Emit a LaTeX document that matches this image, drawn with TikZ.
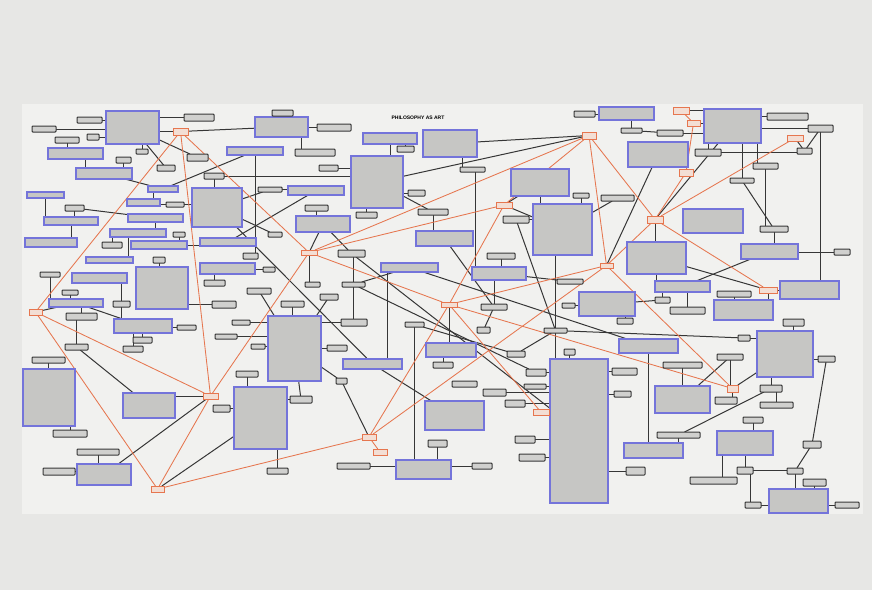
\documentclass[tikz,border=0pt]{standalone}
\usepackage{fontspec}
\newfontfamily\titlefont{Liberation Sans}
\pgfdeclarelayer{bg}\pgfdeclarelayer{ln}\pgfsetlayers{bg,ln,main}
\definecolor{wall}{HTML}{E7E7E5}
\definecolor{paper}{HTML}{F1F1EF}
\definecolor{boxblue}{HTML}{7474DA}
\definecolor{boxgray}{HTML}{C6C6C4}
\definecolor{sdark}{HTML}{383838}
\definecolor{sgray}{HTML}{D0D0CE}
\definecolor{rline}{HTML}{E6764F}
\definecolor{rfill}{HTML}{F3DED4}
\definecolor{dline}{HTML}{363636}
\tikzset{
 bbox/.style={draw=boxblue,fill=boxgray,line width=1.2pt,inner sep=0pt,outer sep=0pt},
 sbox/.style={draw=sdark,fill=sgray,line width=1pt,rounded corners=0.8pt,inner sep=0pt,outer sep=0pt},
 rbox/.style={draw=rline,fill=rfill,line width=0.9pt,inner sep=0pt,outer sep=0pt},
 dk/.style={draw=dline,line width=1pt},
 rd/.style={draw=rline,line width=0.85pt}}
\newcommand\mkB[5]{\node[bbox,minimum width={#4-#2},minimum height={#5-#3}] (#1) at ({(#2+#4)/2},{(#3+#5)/2}) {};}
\newcommand\mkS[5]{\node[sbox,minimum width={#4-#2},minimum height={#5-#3}] (#1) at ({(#2+#4)/2},{(#3+#5)/2}) {};}
\newcommand\mkR[5]{\node[rbox,minimum width={#4-#2},minimum height={#5-#3}] (#1) at ({(#2+#4)/2},{(#3+#5)/2}) {};}
\newcommand\cDL[2]{\draw[dk] (#1) -- (#2);}
\newcommand\cRL[2]{\draw[rd] (#1) -- (#2);}
\newcommand\cDV[2]{\draw[dk] (#1) -- (#1 |- #2);}
\newcommand\cDH[2]{\draw[dk] (#1) -- (#1 -| #2);}
\newcommand\cDVS[3]{\draw[dk] ([xshift=#3]#1.center) -- ([xshift=#3]#1.center |- #2.center);}
\begin{document}
\begin{tikzpicture}[x=1pt,y=-1pt]
\begin{pgfonlayer}{bg}
\fill[wall] (0,0) rectangle (872,590);
\fill[paper] (22,104) rectangle (863,514);
\end{pgfonlayer}
\useasboundingbox (0,0) rectangle (872,590);
\node[font=\titlefont\bfseries\fontsize{5}{6}\selectfont,inner sep=0pt] (title) at (418,118) {PHILOSOPHY AS ART};
% blue boxes
\mkB{B1}{106}{111}{159}{144}
\mkB{B2}{48}{148}{103}{159}
\mkB{B3}{76}{168}{132}{179}
\mkB{B4}{148}{186}{178}{192}
\mkB{B5}{192}{188}{242}{227}
\mkB{B6}{27}{192}{64}{198}
\mkB{B7}{127}{199}{160}{206}
\mkB{B8}{44}{217}{98}{225}
\mkB{B9}{128}{214}{183}{222}
\mkB{B10}{110}{229}{166}{237}
\mkB{B11}{25}{238}{77}{247}
\mkB{B12}{131}{241}{187}{249}
\mkB{B13}{200}{238}{256}{246}
\mkB{B14}{200}{263}{255}{274}
\mkB{B15}{255}{117}{308}{137}
\mkB{B16}{227}{147}{283}{155}
\mkB{B17}{363}{133}{417}{144}
\mkB{B18}{423}{130}{477}{157}
\mkB{B19}{351}{156}{403}{208}
\mkB{B20}{288}{186}{344}{195}
\mkB{B21}{296}{216}{350}{232}
\mkB{B22}{416}{231}{473}{246}
\mkB{B23}{599}{107}{654}{120}
\mkB{B24}{628}{142}{688}{167}
\mkB{B25}{511}{169}{569}{196}
\mkB{B26}{533}{204}{592}{255}
\mkB{B27}{704}{109}{761}{143}
\mkB{B28}{683}{209}{743}{233}
\mkB{B29}{741}{244}{798}{259}
\mkB{B30}{86}{257}{133}{263}
\mkB{B31}{136}{267}{188}{309}
\mkB{B32}{72}{273}{127}{283}
\mkB{B33}{49}{299}{103}{307}
\mkB{B34}{114}{319}{172}{333}
\mkB{B35}{23}{369}{75}{426}
\mkB{B36}{123}{393}{175}{418}
\mkB{B37}{381}{263}{438}{272}
\mkB{B38}{268}{316}{321}{381}
\mkB{B39}{343}{359}{402}{369}
\mkB{B40}{426}{343}{476}{357}
\mkB{B41}{234}{387}{287}{449}
\mkB{B42}{472}{267}{526}{280}
\mkB{B43}{627}{242}{686}{274}
\mkB{B44}{655}{281}{710}{292}
\mkB{B45}{579}{292}{635}{316}
\mkB{B46}{619}{339}{678}{353}
\mkB{B47}{550}{359}{608}{503}
\mkB{B48}{655}{386}{710}{413}
\mkB{B49}{714}{300}{773}{320}
\mkB{B50}{780}{281}{839}{299}
\mkB{B51}{757}{331}{813}{377}
\mkB{B52}{425}{401}{484}{430}
\mkB{B53}{77}{464}{131}{485}
\mkB{B54}{396}{460}{451}{479}
\mkB{B55}{624}{443}{683}{458}
\mkB{B56}{717}{431}{773}{455}
\mkB{B57}{769}{489}{828}{513}
% small boxes
\mkS{S1}{77}{117}{102}{123}
\mkS{S2}{32}{126}{56}{132}
\mkS{S3}{87}{134}{99}{140}
\mkS{S4}{184}{114}{214}{121}
\mkS{S5}{55}{137}{79}{143}
\mkS{S6}{136}{149}{148}{154}
\mkS{S7}{187}{154}{208}{161}
\mkS{S8}{157}{165}{175}{171}
\mkS{S9}{116}{157}{131}{163}
\mkS{S10}{204}{173}{224}{179}
\mkS{S11}{65}{205}{84}{211}
\mkS{S12}{166}{202}{184}{207}
\mkS{S13}{173}{232}{185}{237}
\mkS{S14}{102}{242}{122}{248}
\mkS{S15}{272}{110}{293}{116}
\mkS{S16}{317}{124}{351}{131}
\mkS{S17}{295}{149}{335}{156}
\mkS{S18}{397}{146}{414}{152}
\mkS{S19}{319}{165}{338}{171}
\mkS{S20}{408}{190}{425}{196}
\mkS{S21}{356}{212}{377}{218}
\mkS{S22}{418}{209}{448}{215}
\mkS{S23}{258}{187}{282}{192}
\mkS{S24}{305}{205}{328}{211}
\mkS{S25}{268}{232}{282}{237}
\mkS{S26}{574}{111}{595}{117}
\mkS{S27}{621}{128}{642}{133}
\mkS{S28}{657}{130}{683}{136}
\mkS{S29}{573}{193}{589}{198}
\mkS{S30}{601}{195}{634}{201}
\mkS{S31}{503}{216}{529}{223}
\mkS{S32}{460}{167}{485}{172}
\mkS{S33}{767}{113}{808}{120}
\mkS{S34}{808}{125}{833}{132}
\mkS{S35}{695}{149}{721}{156}
\mkS{S36}{797}{148}{812}{154}
\mkS{S37}{753}{163}{778}{169}
\mkS{S38}{730}{178}{754}{183}
\mkS{S39}{760}{226}{788}{232}
\mkS{S40}{40}{272}{60}{277}
\mkS{S41}{153}{257}{165}{263}
\mkS{S42}{204}{280}{225}{286}
\mkS{S43}{62}{290}{78}{295}
\mkS{S44}{113}{301}{130}{307}
\mkS{S45}{66}{313}{97}{320}
\mkS{S46}{212}{301}{236}{308}
\mkS{S47}{177}{325}{196}{330}
\mkS{S48}{215}{334}{237}{339}
\mkS{S49}{133}{337}{152}{343}
\mkS{S50}{123}{346}{143}{352}
\mkS{S51}{65}{344}{88}{350}
\mkS{S52}{32}{357}{65}{363}
\mkS{S53}{338}{250}{365}{257}
\mkS{S54}{243}{253}{258}{259}
\mkS{S55}{263}{267}{275}{272}
\mkS{S56}{305}{282}{320}{287}
\mkS{S57}{342}{282}{365}{287}
\mkS{S58}{247}{288}{271}{294}
\mkS{S59}{281}{301}{304}{307}
\mkS{S60}{320}{294}{338}{300}
\mkS{S61}{341}{319}{367}{326}
\mkS{S62}{405}{322}{424}{327}
\mkS{S63}{251}{344}{265}{349}
\mkS{S64}{327}{345}{347}{351}
\mkS{S65}{433}{362}{453}{368}
\mkS{S66}{236}{371}{258}{377}
\mkS{S67}{336}{378}{347}{384}
\mkS{S68}{290}{396}{312}{403}
\mkS{S69}{487}{253}{515}{259}
\mkS{S70}{557}{279}{583}{284}
\mkS{S71}{481}{304}{507}{310}
\mkS{S72}{562}{303}{575}{308}
\mkS{S73}{617}{318}{633}{324}
\mkS{S74}{477}{327}{490}{333}
\mkS{S75}{544}{328}{567}{333}
\mkS{S76}{507}{351}{525}{357}
\mkS{S77}{564}{349}{575}{355}
\mkS{S78}{526}{369}{546}{376}
\mkS{S79}{612}{368}{637}{375}
\mkS{S80}{663}{362}{702}{368}
\mkS{S81}{524}{384}{546}{389}
\mkS{S82}{483}{389}{506}{396}
\mkS{S83}{614}{391}{631}{397}
\mkS{S84}{834}{249}{850}{255}
\mkS{S85}{655}{297}{670}{303}
\mkS{S86}{670}{307}{705}{314}
\mkS{S87}{717}{291}{751}{297}
\mkS{S88}{783}{319}{804}{326}
\mkS{S89}{738}{335}{750}{341}
\mkS{S90}{818}{356}{835}{362}
\mkS{S91}{717}{354}{743}{360}
\mkS{S92}{760}{385}{782}{392}
\mkS{S93}{715}{397}{737}{404}
\mkS{S94}{760}{402}{793}{408}
\mkS{S95}{505}{400}{525}{407}
\mkS{S96}{515}{436}{535}{443}
\mkS{S97}{519}{454}{545}{461}
\mkS{S98}{472}{463}{492}{469}
\mkS{S99}{626}{467}{645}{475}
\mkS{S100}{657}{432}{700}{438}
\mkS{S101}{53}{430}{87}{437}
\mkS{S102}{213}{405}{230}{412}
\mkS{S103}{77}{449}{119}{455}
\mkS{S104}{43}{468}{75}{475}
\mkS{S105}{267}{468}{288}{474}
\mkS{S106}{337}{463}{370}{469}
\mkS{S107}{428}{440}{447}{447}
\mkS{S108}{743}{417}{763}{423}
\mkS{S109}{803}{441}{821}{448}
\mkS{S110}{690}{477}{737}{484}
\mkS{S111}{737}{467}{753}{474}
\mkS{S112}{787}{468}{803}{474}
\mkS{S113}{803}{479}{826}{486}
\mkS{S114}{745}{502}{761}{508}
\mkS{S115}{835}{502}{859}{508}
\mkS{S116}{452}{381}{477}{387}
\mkS{S117}{232}{320}{250}{325}
% red boxes
\mkR{R1}{173}{128}{188}{135}
\mkR{R2}{582}{132}{596}{139}
\mkR{R3}{673}{107}{689}{114}
\mkR{R4}{687}{120}{700}{126}
\mkR{R5}{787}{135}{803}{141}
\mkR{R6}{679}{169}{693}{176}
\mkR{R7}{496}{202}{512}{208}
\mkR{R8}{647}{216}{663}{223}
\mkR{R9}{301}{250}{317}{255}
\mkR{R10}{600}{263}{613}{268}
\mkR{R11}{29}{309}{42}{315}
\mkR{R12}{441}{302}{457}{307}
\mkR{R13}{759}{287}{777}{293}
\mkR{R14}{203}{393}{218}{399}
\mkR{R15}{727}{385}{738}{392}
\mkR{R16}{533}{409}{549}{415}
\mkR{R17}{362}{434}{376}{440}
\mkR{R18}{373}{449}{387}{455}
\mkR{R19}{151}{486}{164}{492}
\begin{pgfonlayer}{ln}
% dark connectors
\cDH{S1}{B1}\cDH{S2}{B1}\cDH{S3}{B1}\cDH{S4}{B1}\cDH{R1}{B1}
\cDL{R1}{B15}
\cDV{S6}{B1}\cDL{B1}{S8}\cDL{B1}{S7}
\cDV{S5}{B2}\cDVS{B2}{B3}{10}\cDV{S9}{B3}
\cDL{B3}{B4}\cDVS{B4}{B7}{-10}
\cDH{S12}{B7}\cDH{S12}{B5}
\cDV{S11}{B8}\cDV{B6}{B8}\cDL{S11}{B9}
\cDV{B9}{B10}\cDV{B8}{B11}\cDV{S14}{B10}\cDV{S13}{B12}
\cDL{B4}{B16}\cDH{B12}{B13}\cDH{S10}{B19}\cDV{S10}{B5}
\cDVS{B10}{B30}{-10}
\cDV{S15}{B15}\cDH{B15}{S16}\cDVS{B15}{S17}{20}
\cDV{B16}{S54}
\cDH{S19}{B19}\cDV{B17}{B19}\cDV{S18}{B17}
\cDH{S20}{B19}\cDV{S21}{B19}\cDL{B19}{S22}
\cDV{S24}{B21}
\cDL{S23}{B5}\cDL{B5}{S25}\cDL{B20}{B13}\cDH{S23}{B20}
\cDL{B21}{R9}\cDL{B21}{S53}
\cDL{B19}{R2}\cDL{B18}{R2}
\cDVS{S32}{B18}{-10}\cDVS{S32}{B42}{3}\cDV{S69}{B42}
\cDV{S22}{B22}\cDH{S55}{B14}
\cDH{S26}{B23}\cDV{S27}{B23}\cDL{S27}{S28}
\cDV{B25}{B26}\cDV{S29}{B26}\cDL{S30}{B26}
\cDL{R7}{B26}\cDL{R7}{B25}\cDH{S31}{B26}\cDL{S31}{S75}
\cDL{B24}{R10}\cDL{B27}{R8}\cDV{R8}{B43}
\cDH{R3}{B27}\cDH{R4}{B27}\cDH{S28}{B27}\cDH{S33}{B27}\cDH{S34}{B27}
\cDV{S35}{B27}\cDH{S35}{S36}\cDL{S34}{S36}\cDV{S34}{B50}
\cDV{S38}{B27}\cDVS{S37}{B27}{-8}\cDV{S37}{S39}\cDL{S38}{S39}\cDV{S39}{B29}
\cDL{R5}{S36}
\cDV{S41}{B31}\cDH{S46}{B31}\cDV{S42}{B14}
\cDV{S40}{B33}\cDV{S43}{B33}\cDV{S44}{B32}\cDV{S44}{B34}
\cDL{B33}{B34}\cDV{S45}{B33}\cDVS{S45}{S51}{-5}\cDL{S51}{B36}
\cDH{S47}{B34}\cDV{S49}{B34}\cDV{S50}{B34}\cDV{S52}{B35}
\cDL{R11}{B33}\cDH{R14}{B36}\cDV{S101}{B35}
\cDV{R9}{S56}\cDV{S57}{S53}\cDV{S57}{S61}
\cDL{S57}{B37}\cDL{S57}{S78}\cDL{S53}{B47}\cDL{B37}{B46}
\cDL{S58}{B38}\cDV{S59}{B38}\cDL{S60}{B38}\cDH{S117}{B38}\cDH{S61}{B38}
\cDH{S63}{B38}\cDH{S64}{B38}\cDH{S48}{B38}
\cDL{B38}{S67}\cDL{S67}{R17}
\cDL{B5}{B39}\cDVS{B39}{B37}{15}
\cDV{R12}{B40}\cDV{S65}{B40}\cDV{S62}{B54}
\cDL{B39}{B52}\cDL{S68}{B38}\cDH{S68}{B41}
\cDV{S66}{B41}\cDV{S105}{B41}\cDH{S102}{B41}\cDL{R19}{B41}
\cDL{B42}{S70}\cDV{S71}{B42}\cDL{S71}{S74}\cDL{B22}{S71}
\cDVS{B26}{S75}{-7}\cDV{S75}{B47}\cDL{S75}{S89}
\cDH{S72}{B45}\cDV{S73}{B45}\cDL{B45}{S85}
\cDV{B43}{B44}\cDV{S85}{B44}\cDV{S86}{B44}
\cDH{S78}{B47}\cDH{S81}{B47}\cDH{S82}{B47}\cDH{S95}{B47}\cDH{R16}{B47}
\cDH{S96}{B47}\cDH{S97}{B47}\cDH{S79}{B47}\cDH{S83}{B47}\cDH{S99}{B47}
\cDV{S77}{B47}
\cDV{B46}{B55}\cDV{S100}{B55}
\cDH{S98}{B54}\cDH{S106}{B54}\cDV{S107}{B54}
\cDL{S62}{S76}\cDL{S75}{S76}
\cDH{S84}{B29}\cDH{R13}{B50}\cDV{R13}{B49}\cDV{S87}{B49}
\cDL{B43}{R13}\cDL{B29}{B44}
\cDV{S88}{B51}\cDH{S89}{B51}\cDH{S90}{B51}\cDV{S92}{B51}\cDV{S94}{S92}
\cDL{B51}{R15}\cDV{S91}{R15}\cDV{R15}{S93}
\cDV{S80}{B48}\cDL{B48}{S91}\cDL{S92}{S100}\cDL{S90}{S109}
\cDV{S108}{B56}\cDV{B56}{S111}\cDVS{B56}{S110}{-23}
\cDVS{S111}{S114}{5}\cDH{S114}{B57}\cDH{S111}{S112}
\cDV{S112}{B57}\cDV{S113}{B57}\cDH{S115}{B57}\cDL{S112}{S109}
\cDV{S103}{B53}\cDH{S104}{B53}\cDL{B53}{R14}
% red connectors
\cRL{R1}{R11}\cRL{R1}{R14}\cRL{R1}{R9}
\cRL{R11}{R14}\cRL{R11}{R19}\cRL{R14}{R19}
\cRL{R19}{R17}\cRL{R17}{R12}\cRL{R17}{R10}\cRL{R17}{R18}
\cRL{R9}{R7}\cRL{R9}{R2}\cRL{R9}{R14}\cRL{R9}{R12}
\cRL{R12}{R15}\cRL{R12}{R10}\cRL{R12}{R16}
\cRL{R7}{R12}\cRL{R7}{R2}\cRL{R2}{R10}\cRL{R2}{R8}
\cRL{R10}{R15}\cRL{R8}{R13}\cRL{R8}{R5}\cRL{R8}{R6}\cRL{R8}{R10}
\cRL{R4}{R6}\cRL{R3}{R4}
\end{pgfonlayer}
\end{tikzpicture}
\end{document}
